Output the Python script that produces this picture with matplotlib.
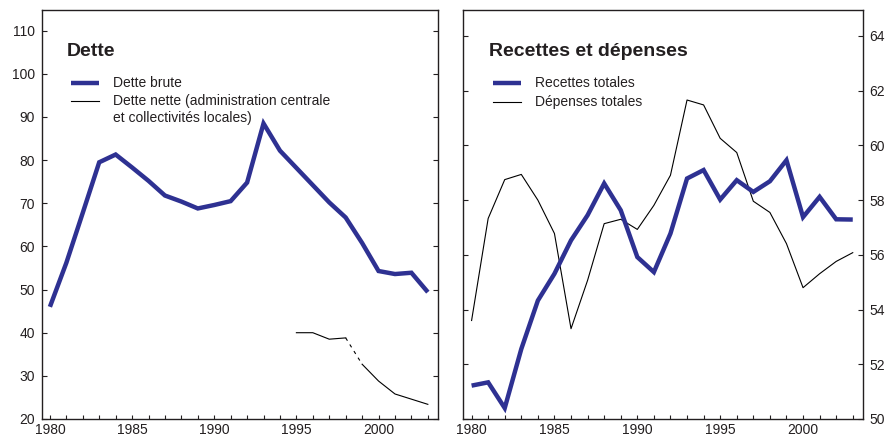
import matplotlib
matplotlib.use("Agg")
import matplotlib.pyplot as plt
from matplotlib.lines import Line2D

plt.rcParams['font.family'] = ['Liberation Sans', 'DejaVu Sans']

# ---- data ----
years = list(range(1980, 2004))

dette_brute = [46.0, 56.2, 67.8, 79.5, 81.3, 78.3, 75.2, 71.8, 70.4, 68.8, 69.6, 70.5,
               74.8, 88.5, 82.2, 78.2, 74.2, 70.2, 66.7, 60.8, 54.3, 53.6, 53.9, 49.4]

nette_years_a = [1995, 1996, 1997, 1998]
dette_nette_a = [40.0, 40.0, 38.5, 38.8]
nette_years_b = [1999, 2000, 2001, 2002, 2003]
dette_nette_b = [32.7, 28.8, 25.8, 24.6, 23.4]

recettes = [51.22, 51.34, 50.40, 52.56, 54.33, 55.31, 56.53, 57.45, 58.61, 57.63,
            55.92, 55.37, 56.78, 58.79, 59.10, 58.02, 58.73, 58.30, 58.69, 59.46,
            57.38, 58.12, 57.30, 57.29]

depenses = [53.60, 57.33, 58.75, 58.94, 58.00, 56.78, 53.30, 55.07, 57.14, 57.30,
            56.93, 57.81, 58.91, 61.66, 61.48, 60.26, 59.74, 57.96, 57.55, 56.41,
            54.80, 55.31, 55.76, 56.08]

left_yticks = [20, 30, 40, 50, 60, 70, 80, 90, 100, 110]
right_yticks = [50, 52, 54, 56, 58, 60, 62, 64]
xtick_labels = [1980, 1985, 1990, 1995, 2000]

# ---- style ----
BLUE = '#2e3192'
TXT = '#231f20'
SPINE = '#231f20'

fig = plt.figure(figsize=(8.89, 4.37), dpi=100)
ax1 = fig.add_axes([41.7 / 889, 1 - 419 / 437, 396 / 889, 409 / 437])
ax2 = fig.add_axes([463.3 / 889, 1 - 419 / 437, 399.4 / 889, 409 / 437])


def style_axes(ax, label_side):
    for s in ax.spines.values():
        s.set_color(SPINE)
        s.set_linewidth(1.0)
    ax.set_xlim(1979.5, 2003.6)
    ax.set_xticks(xtick_labels)
    ax.set_xticks(years, minor=True)
    ax.set_xticklabels([str(y) for y in xtick_labels])
    ax.tick_params(axis='x', which='both', direction='in', length=3, width=0.8,
                   color=SPINE, top=False, bottom=True, pad=3,
                   labelsize=10, labelcolor=TXT)
    ax.tick_params(axis='y', which='both', direction='in', length=3.5, width=0.8,
                   color=SPINE, left=True, right=True, pad=5,
                   labelsize=10, labelcolor=TXT,
                   labelleft=(label_side == 'left'),
                   labelright=(label_side == 'right'))


# ---- left panel: debt ----
style_axes(ax1, 'left')
ax1.set_ylim(20, 114.8)
ax1.set_yticks(left_yticks)
ax1.plot(years, dette_brute, color=BLUE, lw=3.2, solid_joinstyle='miter',
         solid_capstyle='butt')
ax1.plot(nette_years_a, dette_nette_a, color='black', lw=0.8)
ax1.plot([nette_years_a[-1], nette_years_b[0]], [dette_nette_a[-1], dette_nette_b[0]],
         color='black', lw=0.8, dashes=(3, 4))
ax1.plot(nette_years_b, dette_nette_b, color='black', lw=0.8)

ax1.text(0.064, 0.898, 'Dette', transform=ax1.transAxes, fontsize=14,
         fontweight='bold', color=TXT, va='center', ha='left')
ax1.add_line(Line2D([0.074, 0.145], [0.8215, 0.8215], transform=ax1.transAxes,
                    color=BLUE, lw=3.2, solid_capstyle='butt'))
ax1.add_line(Line2D([0.074, 0.145], [0.7775, 0.7775], transform=ax1.transAxes,
                    color='black', lw=0.8))
ax1.text(0.180, 0.8215, 'Dette brute', transform=ax1.transAxes, fontsize=10,
         color=TXT, va='center', ha='left')
ax1.text(0.180, 0.7775, 'Dette nette (administration centrale', transform=ax1.transAxes,
         fontsize=10, color=TXT, va='center', ha='left')
ax1.text(0.180, 0.736, 'et collectivités locales)', transform=ax1.transAxes,
         fontsize=10, color=TXT, va='center', ha='left')

# ---- right panel: revenue and spending ----
style_axes(ax2, 'right')
ax2.set_ylim(50, 64.95)
ax2.set_yticks(right_yticks)
ax2.plot(years, depenses, color='black', lw=0.8)
ax2.plot(years, recettes, color=BLUE, lw=3.2, solid_joinstyle='miter',
         solid_capstyle='butt')

ax2.text(0.064, 0.898, 'Recettes et dépenses', transform=ax2.transAxes, fontsize=14,
         fontweight='bold', color=TXT, va='center', ha='left')
ax2.add_line(Line2D([0.0744, 0.1437], [0.8215, 0.8215], transform=ax2.transAxes,
                    color=BLUE, lw=3.2, solid_capstyle='butt'))
ax2.add_line(Line2D([0.0744, 0.1437], [0.775, 0.775], transform=ax2.transAxes,
                    color='black', lw=0.8))
ax2.text(0.1795, 0.8215, 'Recettes totales', transform=ax2.transAxes, fontsize=10,
         color=TXT, va='center', ha='left')
ax2.text(0.1795, 0.775, 'Dépenses totales', transform=ax2.transAxes, fontsize=10,
         color=TXT, va='center', ha='left')

fig.savefig('out.png', dpi=100)
